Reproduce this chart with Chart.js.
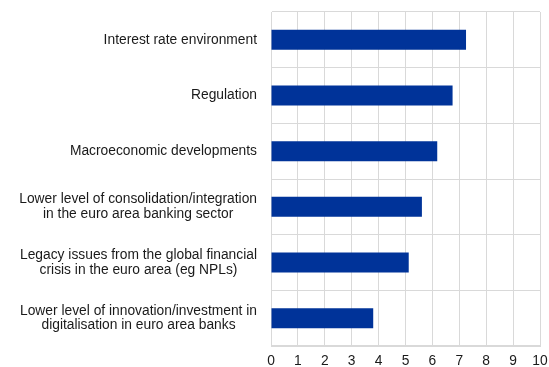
<!DOCTYPE html>
<html>
<head>
<meta charset="utf-8">
<script src="https://cdn.jsdelivr.net/npm/chart.js@4/dist/chart.umd.min.js"></script>
<style>
  html, body { margin: 0; padding: 0; background: #fff; }
  #wrap { width: 549px; height: 367px; }
</style>
</head>
<body>
<div id="wrap"><canvas id="barChart"></canvas></div>
<script>
// Categories (top to bottom) and their scores
const categories = [
    ["Interest rate environment"],
    ["Regulation"],
    ["Macroeconomic developments"],
    ["Lower level of consolidation/integration", "in the euro area banking sector"],
    ["Legacy issues from the global financial", "crisis in the euro area (eg NPLs)"],
    ["Lower level of innovation/investment in", "digitalisation in euro area banks"]
];
const scores = [7.25, 6.75, 6.18, 5.61, 5.12, 3.8];
const xTicks = [0, 1, 2, 3, 4, 5, 6, 7, 8, 9, 10];

const fontFamily = "'Liberation Sans', Arial, sans-serif";
const fontSize = 13.8;
const lineGap = 14.5;

Chart.defaults.font.family = fontFamily;
Chart.defaults.font.size = fontSize;
Chart.defaults.color = "#1a1a1a";

// category labels: each block centred on itself, block right-aligned to the axis
const centredLabels = {
    id: "centredLabels",
    afterDraw(chart) {
        const ctx = chart.ctx;
        const yScale = chart.scales.y;
        const right = yScale.right - 14;
        ctx.save();
        ctx.font = fontSize + "px " + fontFamily;
        ctx.fillStyle = "#1a1a1a";
        ctx.textAlign = "center";
        ctx.textBaseline = "middle";
        categories.forEach((lines, i) => {
            const cy = yScale.getPixelForTick(i);
            const w = Math.max(...lines.map(l => ctx.measureText(l).width));
            const cx = right - w / 2;
            const y0 = cy - (lines.length - 1) * lineGap / 2;
            lines.forEach((l, j) => ctx.fillText(l, cx, y0 + j * lineGap));
        });
        ctx.restore();
    }
};

new Chart(document.getElementById("barChart"), {
    type: "bar",
    data: {
        labels: categories,
        datasets: [{
            data: scores,
            backgroundColor: "#003399",
            barPercentage: 0.36,
            categoryPercentage: 1
        }]
    },
    options: {
        indexAxis: "y",
        responsive: true,
        maintainAspectRatio: false,
        animation: false,
        layout: { padding: { top: 12, right: 9, left: 0, bottom: 0 } },
        plugins: {
            legend: { display: false },
            tooltip: { enabled: false }
        },
        scales: {
            x: {
                min: xTicks[0],
                max: xTicks[xTicks.length - 1],
                afterBuildTicks: axis => { axis.ticks = xTicks.map(v => ({ value: v })); },
                grid: { color: "#d9d9d9", drawTicks: false },
                border: { color: "#d9d9d9" },
                ticks: { padding: 7, maxRotation: 0 },
                afterFit: axis => {
                    axis.height = 21;
                    axis.paddingLeft = 0;
                    axis.paddingRight = 0;
                }
            },
            y: {
                grid: { color: "#d9d9d9", drawTicks: false, offset: true },
                border: { color: "#d9d9d9" },
                ticks: { display: false },
                afterFit: axis => {
                    axis.width = 271;
                    axis.paddingTop = 0;
                    axis.paddingBottom = 0;
                }
            }
        }
    },
    plugins: [centredLabels]
});
</script>
</body>
</html>
